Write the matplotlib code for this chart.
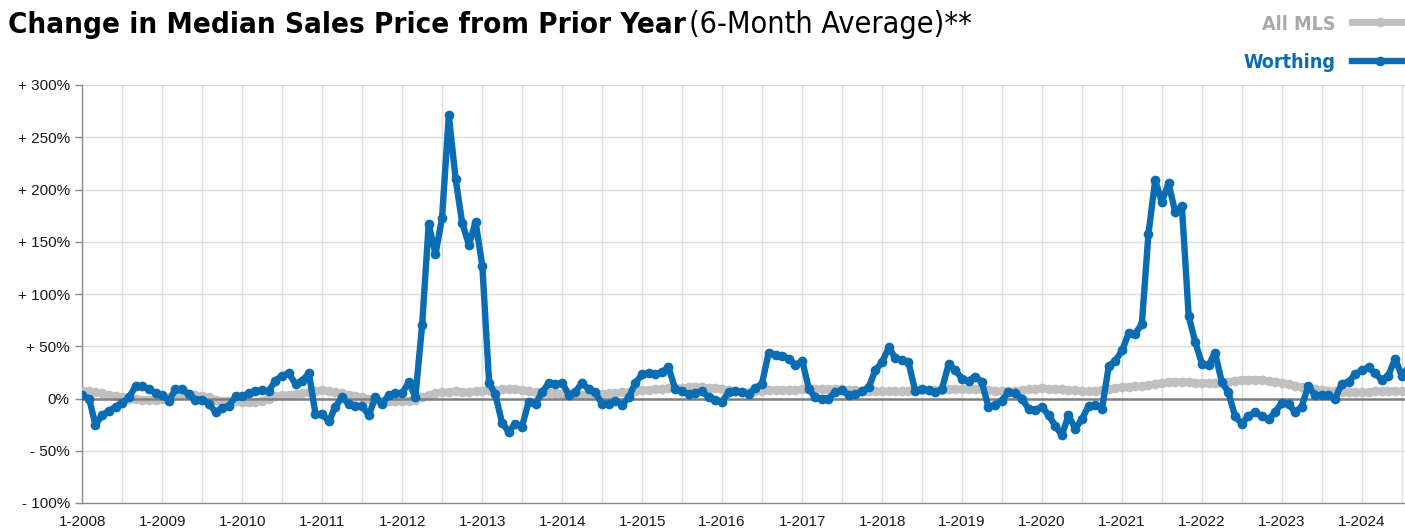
import matplotlib
matplotlib.use('Agg')
import matplotlib.pyplot as plt
import matplotlib.dates as mdates
from matplotlib import font_manager
import pandas as pd

# ---------------- data ----------------
months = pd.date_range('2008-01-01', periods=200, freq='MS')

worthing = [
    3, 0, -25, -16, -12, -8, -4, 1, 12, 12, 9, 5,            # 2008
    3, -2, 9, 9, 4, -1, -1, -5, -13, -9, -7, 2,              # 2009
    2, 5, 7, 8, 7, 17, 22, 24, 14, 17, 24, -15,              # 2010
    -15, -22, -8, 1, -5, -7, -7, -16, 1, -5, 3, 5,           # 2011
    5, 16, 1, 70, 167, 138, 173, 271, 210, 168, 147, 169,    # 2012
    127, 15, 4, -23, -32, -24, -27, -3, -5, 6, 15, 14,       # 2013
    15, 3, 6, 15, 9, 6, -5, -5, -2, -6, 1, 15,               # 2014
    23, 24, 23, 25, 30, 9, 7, 4, 5, 7, 1, -1,                # 2015
    -3, 6, 7, 6, 4, 10, 14, 44, 42, 41, 38, 32,              # 2016
    36, 9, 1, 0, 0, 6, 8, 3, 4, 7, 11, 27,                   # 2017
    35, 49, 39, 37, 35, 7, 9, 8, 6, 9, 33, 27,               # 2018
    19, 17, 21, 16, -8, -6, -2, 6, 5, 0, -10, -11,           # 2019
    -8, -16, -26, -35, -16, -29, -20, -7, -6, -10, 31, 36,   # 2020
    46, 63, 62, 71, 157, 209, 188, 206, 178, 184, 79, 54,    # 2021
    33, 32, 44, 16, 6, -17, -24, -17, -13, -17, -20, -13,    # 2022
    -4, -5, -13, -8, 12, 3, 3, 3, 0, 14, 16, 23,             # 2023
    27, 30, 24, 18, 22, 38, 22, 30,                          # 2024
]

all_mls = [
    7, 7, 6, 5, 3, 2, 1, 0, 0, -1, -1, -1,
    0, 1, 3, 4, 4, 3, 2, 1, -1, -2, -2, -2,
    -3, -3, -3, -2, 0, 2, 3, 3, 4, 5, 6, 7,
    8, 7, 6, 5, 3, 2, 1, 0, -1, -2, -2, -2,
    -2, -2, -1, 1, 3, 5, 6, 6, 7, 6, 6, 7,
    7, 8, 8, 9, 9, 9, 8, 7, 6, 5, 5, 5,
    4, 4, 3, 3, 3, 4, 4, 5, 5, 6, 6, 7,
    8, 8, 9, 9, 10, 10, 10, 11, 11, 11, 10, 10,
    9, 8, 7, 6, 6, 7, 7, 8, 8, 8, 8, 8,
    9, 9, 9, 9, 9, 9, 9, 8, 8, 7, 7, 7,
    7, 7, 7, 7, 7, 8, 8, 8, 8, 8, 9, 9,
    9, 9, 9, 9, 8, 7, 7, 7, 7, 8, 9, 9,
    10, 9, 9, 9, 8, 8, 7, 7, 7, 8, 9, 10,
    11, 11, 12, 12, 13, 14, 15, 16, 16, 16, 16, 15,
    15, 15, 15, 15, 16, 17, 18, 18, 18, 18, 17, 16,
    15, 14, 12, 11, 10, 9, 8, 7, 7, 6, 6, 6,
    6, 6, 7, 7, 7, 7, 7, 6,
]

years = list(range(2008, 2025))
x_tick_labels = [f'1-{y}' for y in years]
y_ticks = [-100, -50, 0, 50, 100, 150, 200, 250, 300]
y_tick_labels = ['- 100%', '- 50%', '0%', '+ 50%', '+ 100%', '+ 150%',
                 '+ 200%', '+ 250%', '+ 300%']
series_names = ['All MLS', 'Worthing']

# ---------------- style ----------------
BLUE = '#0a6cb3'
GRAY = '#c0c0c0'
W, H = 1405, 529
LW_B, LW_G, MS = 4.6, 5.0, 7.0

def has_font(name):
    try:
        font_manager.findfont(font_manager.FontProperties(family=name),
                              fallback_to_default=False)
        return True
    except Exception:
        return False

COND = 'Liberation Sans Narrow' if has_font('Liberation Sans Narrow') else 'DejaVu Sans'
COND_STRETCH = 'normal' if COND == 'Liberation Sans Narrow' else 'condensed'
REG = 'Liberation Sans'

fig = plt.figure(figsize=(W / 100, H / 100), dpi=100)
fig.patch.set_facecolor('white')

ax_left, ax_top, ax_bottom = 82.3, 85, 503
ax = fig.add_axes([ax_left / W, (H - ax_bottom) / H, 1 - ax_left / W,
                   (ax_bottom - ax_top) / H])

ax.plot(months, all_mls, color=GRAY, lw=LW_G, marker='o', ms=MS,
        mew=0, zorder=3, solid_capstyle='round')
ax.axhline(0, color='#7f7f7f', lw=1.8, zorder=3.5)
ax.plot(months, worthing, color=BLUE, lw=LW_B, marker='o', ms=MS,
        mew=0, zorder=4, solid_capstyle='round', solid_joinstyle='round')

ax.set_ylim(-100, 300)
ax.set_xlim(pd.Timestamp('2008-01-01'), pd.Timestamp('2024-07-16'))

ax.set_yticks(y_ticks)
ax.set_yticklabels(y_tick_labels, fontname=REG, fontsize=11, color='#1a1a1a')
tick_dates = [pd.Timestamp(f'{y}-01-01') for y in years]
ax.set_xticks(tick_dates)
ax.set_xticklabels(x_tick_labels, fontname=REG, fontsize=11, color='#1a1a1a')
ax.set_xticks([pd.Timestamp(f'{y}-07-01') for y in years], minor=True)

ax.tick_params(axis='y', length=5, width=1, color='#888888', pad=4)
ax.tick_params(axis='x', which='both', length=0, pad=9)

ax.grid(True, which='major', color='#dddddd', lw=1, zorder=0)
ax.grid(True, which='minor', axis='x', color='#dddddd', lw=1, zorder=0)
ax.set_axisbelow(True)
for s in ['top', 'right']:
    ax.spines[s].set_visible(False)
ax.spines['left'].set_color('#8a8a8a')
ax.spines['bottom'].set_color('#8a8a8a')
ax.spines['left'].set_linewidth(1)
ax.spines['bottom'].set_linewidth(1)

# ---------------- title ----------------
renderer = fig.canvas.get_renderer()

def fit(t, target_w):
    w = t.get_window_extent(renderer).width
    t.set_fontsize(t.get_fontsize() * target_w / w)

t1 = fig.text(8 / W, 1 - 33 / H, 'Change in Median Sales Price from Prior Year',
              fontsize=22, fontweight='bold', family=COND,
              fontstretch=COND_STRETCH, va='baseline', ha='left', color='black')
fit(t1, 672)
t2 = fig.text(689 / W, 1 - 33 / H, '(6-Month Average)**',
              fontsize=t1.get_fontsize(), fontweight='normal', family=COND,
              fontstretch=COND_STRETCH, va='baseline', ha='left', color='black')
fit(t2, 283)

# ---------------- legend ----------------
lg1 = fig.text(1335 / W, 1 - 30 / H, series_names[0], fontsize=15,
               fontweight='bold', family=COND, fontstretch=COND_STRETCH,
               va='baseline', ha='right', color='#aaaaaa')
lg2 = fig.text(1335 / W, 1 - 68 / H, series_names[1], fontsize=15,
               fontweight='bold', family=COND, fontstretch=COND_STRETCH,
               va='baseline', ha='right', color=BLUE)
fit(lg2, 92)
lg1.set_fontsize(lg2.get_fontsize())

fig.add_artist(plt.Line2D([1352 / W, 1.0], [1 - 22 / H, 1 - 22 / H],
                          color=GRAY, lw=LW_G, transform=fig.transFigure))
fig.add_artist(plt.Line2D([1380 / W], [1 - 22 / H], color=GRAY, marker='o',
                          ms=MS, mew=0, transform=fig.transFigure))
fig.add_artist(plt.Line2D([1352 / W, 1.0], [1 - 61 / H, 1 - 61 / H],
                          color=BLUE, lw=LW_B, transform=fig.transFigure))
fig.add_artist(plt.Line2D([1380 / W], [1 - 61 / H], color=BLUE, marker='o',
                          ms=MS, mew=0, transform=fig.transFigure))

fig.savefig('out.png', dpi=100, facecolor='white')
